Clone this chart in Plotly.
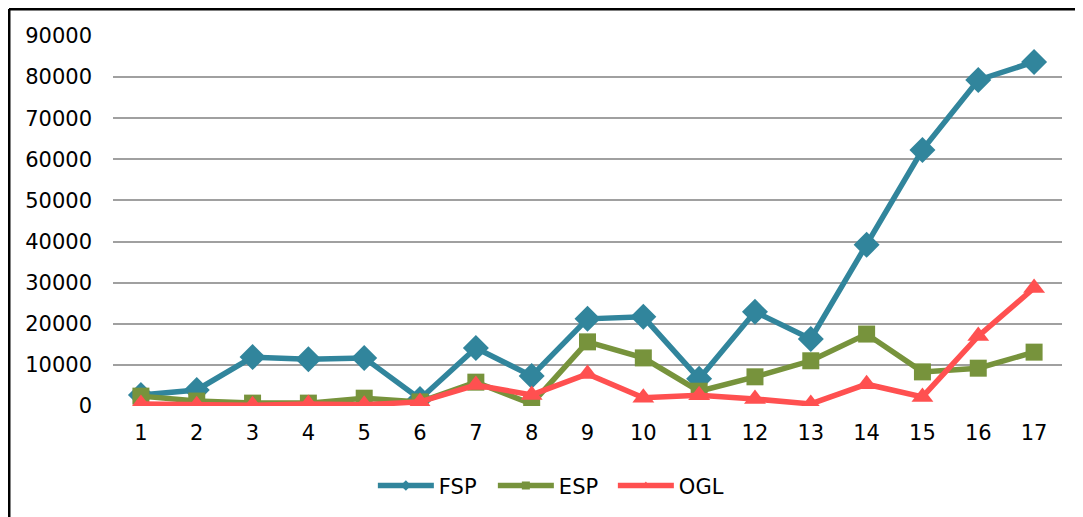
import plotly.graph_objects as go

categories = list(range(1, 18))
fsp = [2700, 3900, 11900, 11400, 11700, 1700, 14100, 7300, 21200, 21700, 6600, 22900, 16300, 39200, 62300, 79300, 83700]
esp = [2400, 1200, 700, 700, 1900, 1000, 5800, 500, 15600, 11700, 3600, 7100, 11000, 17500, 8300, 9200, 13100]
ogl = [500, 200, 200, 500, 300, 1000, 5100, 2700, 7800, 2000, 2600, 1700, 500, 5300, 2200, 17000, 28700]
y_ticks = [0, 10000, 20000, 30000, 40000, 50000, 60000, 70000, 80000, 90000]

series = [
    ("FSP", fsp, "#31859C", "diamond", 20),
    ("ESP", esp, "#77933C", "square", 17),
    ("OGL", ogl, "#FF5050", "triangle-up", 19),
]

fig = go.Figure()
for name, vals, color, sym, size in series:
    fig.add_trace(go.Scatter(x=categories, y=vals, name=name, mode="lines+markers",
                             line=dict(color=color, width=5.5),
                             marker=dict(symbol=sym, size=size, color=color),
                             showlegend=False))
for name, vals, color, sym, size in series:
    fig.add_trace(go.Scatter(x=[None], y=[None], name=name, mode="lines+markers",
                             line=dict(color=color, width=5.5),
                             marker=dict(symbol=sym, size=8, color=color),
                             showlegend=True))

fig.update_layout(
    width=1083, height=517,
    margin=dict(l=105, r=29, t=28, b=119),
    paper_bgcolor="white", plot_bgcolor="white",
    font=dict(family="DejaVu Sans", size=21, color="black"),
    showlegend=True,
    legend=dict(orientation="h", x=0.4635, xanchor="center", y=-0.216, yanchor="middle",
                font=dict(size=21), itemwidth=56, entrywidth=49, entrywidthmode="pixels"),
    xaxis=dict(range=[0.5, 17.5], tickmode="array", tickvals=categories,
               ticktext=[str(c) for c in categories], showgrid=False, zeroline=False,
               showline=False, ticks="", ticklabelstandoff=12),
    yaxis=dict(range=[0, 90000], tickmode="array", tickvals=y_ticks,
               ticktext=[str(v) for v in y_ticks], showgrid=True, gridcolor="#A0A0A0",
               gridwidth=2, zeroline=False, showline=False, ticks="", ticklabelstandoff=20),
    shapes=[
        dict(type="line", xref="paper", yref="paper", x0=-0.1096, x1=-0.1096, y0=1.073, y1=-0.4,
             line=dict(color="black", width=3)),
        dict(type="line", xref="paper", yref="paper", x0=-0.1096, x1=1.1, y0=1.073, y1=1.073,
             line=dict(color="black", width=3)),
    ],
)
fig.write_html("out.html")
